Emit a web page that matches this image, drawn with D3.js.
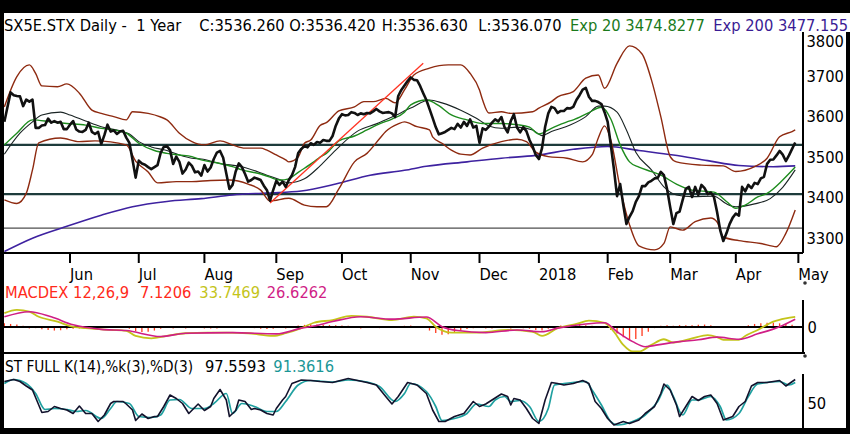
<!DOCTYPE html>
<html>
<head>
<meta charset="utf-8">
<script src="https://cdn.jsdelivr.net/npm/d3@7.9.0/dist/d3.min.js"></script>
<style>
  html, body { margin: 0; padding: 0; background: #000; }
  svg { display: block; }
  text { font-family: "DejaVu Sans", sans-serif; font-size: 14.7px; white-space: pre; }
</style>
</head>
<body>
<svg id="chart" width="850" height="434"></svg>
<script>
// ---- data (one value per trading session, index 0 = 2 May 2017)
const closeVals = [
  3587, 3624, 3660, 3653, 3651, 3650, 3626, 3642, 3637, 3642,
  3572, 3572, 3578, 3579, 3595, 3585, 3589, 3585, 3587, 3569,
  3569, 3580, 3589, 3568, 3563, 3562, 3567, 3585, 3562, 3557,
  3562, 3532, 3554, 3580, 3563, 3566, 3557, 3563, 3565, 3548,
  3535, 3493, 3449, 3491, 3484, 3481, 3475, 3470, 3475, 3480,
  3510, 3525, 3527, 3517, 3483, 3501, 3488, 3459, 3469, 3486,
  3478, 3462, 3464, 3454, 3480, 3464, 3474, 3495, 3511, 3515,
  3498, 3459, 3421, 3431, 3464, 3484, 3475, 3458, 3439, 3443,
  3449, 3446, 3443, 3429, 3418, 3392, 3418, 3441, 3431, 3439,
  3426, 3443, 3455, 3475, 3510, 3520, 3527, 3524, 3534, 3530,
  3537, 3535, 3542, 3540, 3540, 3552, 3577, 3595, 3606, 3603,
  3604, 3611, 3609, 3604, 3608, 3606, 3609, 3608, 3613, 3619,
  3613, 3609, 3610, 3611, 3608, 3599, 3651, 3666, 3677, 3688,
  3697, 3691, 3690, 3676, 3658, 3641, 3619, 3597, 3574, 3556,
  3559, 3562, 3567, 3572, 3569, 3582, 3573, 3587, 3577, 3593,
  3573, 3577, 3535, 3571, 3567, 3575, 3585, 3593, 3588, 3599,
  3574, 3561, 3589, 3606, 3573, 3561, 3574, 3564, 3542, 3526,
  3505, 3495, 3522, 3575, 3608, 3624, 3621, 3609, 3614, 3614,
  3621, 3620, 3624, 3641, 3653, 3667, 3671, 3649, 3639, 3639,
  3636, 3631, 3611, 3587, 3530, 3470, 3403, 3433, 3381, 3334,
  3352, 3366, 3389, 3403, 3428, 3428, 3437, 3441, 3447, 3448,
  3463, 3455, 3421, 3376, 3334, 3361, 3365, 3394, 3421, 3426,
  3401, 3426, 3406, 3431, 3423, 3408, 3412, 3401, 3364, 3319,
  3292, 3311, 3334, 3350, 3360, 3355, 3426, 3415, 3431, 3423,
  3436, 3433, 3447, 3451, 3483, 3493, 3494, 3504, 3515, 3506,
  3490, 3504, 3520, 3536
];

// [session, value]
const upperBand = [
  [0,3624],[4,3699],[8,3728],[10,3707],[12,3676],[17,3674],[20,3681],[24,3658],[28,3616],
  [31,3608],[35,3600],[39,3592],[41,3612],[46,3608],[50,3599],[52,3592],[56,3559],[60,3538],
  [64,3530],[69,3540],[73,3530],[77,3522],[82,3522],[84,3517],[87,3505],[90,3493],[91,3488],
  [94,3500],[96,3534],[98,3542],[101,3578],[103,3585],[107,3614],[112,3624],[115,3637],
  [118,3637],[122,3645],[125,3634],[128,3666],[131,3703],[136,3720],[142,3728],[146,3728],
  [149,3707],[152,3666],[153,3641],[155,3609],[159,3612],[162,3608],[169,3612],[171,3621],
  [175,3637],[177,3649],[182,3662],[186,3695],[190,3703],[192,3670],[196,3732],[200,3775],
  [204,3755],[207,3691],[210,3600],[213,3501],[215,3488],[223,3480],[230,3478],[234,3464],
  [240,3476],[244,3497],[248,3550],[252,3563],[253,3567]
];
const lowerBand = [
  [0,3394],[4,3385],[7,3410],[9,3468],[11,3535],[18,3547],[24,3538],[29,3540],[39,3530],
  [42,3490],[46,3463],[49,3436],[55,3439],[60,3439],[66,3442],[72,3443],[78,3433],[82,3418],
  [85,3391],[91,3398],[96,3381],[100,3377],[103,3377],[107,3421],[112,3488],[116,3509],
  [120,3545],[122,3563],[126,3582],[128,3587],[132,3575],[136,3567],[137,3550],[140,3534],
  [143,3517],[146,3507],[149,3505],[153,3522],[159,3538],[164,3544],[167,3538],[170,3512],
  [174,3501],[180,3497],[185,3488],[188,3505],[190,3547],[192,3577],[194,3542],[197,3423],
  [200,3332],[203,3280],[208,3270],[211,3286],[213,3327],[217,3319],[221,3340],[226,3349],
  [228,3339],[230,3302],[235,3293],[242,3286],[247,3278],[250,3311],[253,3369]
];
const ema20 = [
  [0,3530],[4,3559],[9,3592],[15,3587],[20,3583],[26,3579],[31,3571],[35,3567],[39,3559],
  [43,3534],[48,3516],[52,3509],[56,3505],[60,3501],[63,3493],[69,3484],[73,3476],[76,3468],
  [82,3458],[85,3450],[88,3443],[91,3446],[94,3462],[99,3488],[101,3500],[103,3509],
  [107,3540],[112,3552],[116,3567],[120,3582],[124,3594],[128,3611],[130,3629],[135,3641],
  [139,3627],[143,3604],[148,3592],[153,3583],[159,3583],[164,3580],[168,3574],[171,3557],
  [175,3571],[180,3587],[182,3592],[187,3610],[191,3623],[194,3594],[197,3530],[200,3488],
  [203,3475],[207,3464],[210,3455],[215,3433],[220,3418],[227,3413],[231,3390],[234,3373],
  [237,3381],[241,3401],[244,3410],[249,3443],[253,3475]
];
const ma20 = [
  [0,3507],[5,3559],[9,3587],[12,3604],[18,3611],[21,3604],[26,3589],[31,3575],[37,3565],
  [40,3557],[43,3538],[47,3525],[52,3516],[56,3505],[60,3497],[63,3495],[69,3484],[76,3476],
  [84,3455],[88,3444],[91,3436],[96,3446],[101,3478],[106,3517],[113,3564],[119,3582],
  [124,3599],[130,3621],[136,3641],[140,3634],[146,3616],[151,3596],[155,3577],[159,3571],
  [164,3574],[169,3567],[172,3553],[175,3563],[181,3579],[186,3600],[190,3626],[192,3626],
  [196,3611],[199,3567],[202,3512],[207,3468],[211,3426],[215,3406],[220,3402],[227,3403],
  [231,3384],[234,3377],[240,3384],[245,3397],[249,3425],[253,3468]
];
const ema200 = [
  [0,3266],[9,3299],[19,3326],[31,3356],[41,3377],[52,3390],[63,3397],[73,3406],[84,3411],
  [95,3416],[106,3433],[117,3455],[128,3467],[135,3477],[148,3488],[159,3497],[170,3504],
  [182,3519],[193,3526],[203,3516],[214,3505],[225,3491],[235,3479],[246,3476],[253,3478]
];
const trendLine = [[85, 3386], [134, 3732]];
const levelsThick = [3530, 3408];
const levelsThin = [3324];

const priceTicks = [3300, 3400, 3500, 3600, 3700, 3800];
const monthDays = [21, 43, 64, 87, 108, 130, 152, 171, 193, 213, 234, 254];
const monthLabels = ['Jun', 'Jul', 'Aug', 'Sep', 'Oct', 'Nov', 'Dec', '2018', 'Feb', 'Mar', 'Apr', 'May'];

const macdLine = [
  [0,46],[4,57],[8,51],[11,34],[17,18],[21,3],[26,-4],[34,-10],[39,-13],[42,-30],[47,-38],
  [52,-30],[58,-21],[65,-19],[71,-19],[78,-21],[86,-30],[90,-21],[95,-4],[99,14],[105,23],
  [111,37],[116,34],[124,23],[131,34],[135,29],[138,1],[143,-19],[151,-19],[161,-10],
  [169,-16],[172,-30],[177,-4],[183,10],[187,21],[192,14],[195,-16],[198,-60],[201,-82],
  [203,-82],[207,-60],[211,-41],[214,-52],[220,-38],[225,-27],[228,-34],[230,-43],[235,-43],
  [237,-30],[241,-10],[246,18],[250,29],[253,34]
];
const signalLine = [
  [0,34],[8,51],[15,34],[22,7],[31,-8],[39,-12],[50,-32],[58,-21],[73,-19],[87,-23],[95,-4],
  [99,3],[105,18],[114,34],[124,26],[135,33],[140,1],[145,-12],[154,-19],[164,-10],[172,-16],
  [177,-4],[186,10],[192,14],[196,-16],[201,-49],[205,-66],[209,-60],[216,-49],[222,-43],
  [228,-34],[235,-41],[241,-23],[248,1],[253,26]
];
// histogram, one bar every HIST_STEP sessions
const HIST_STEP = 2;
const histVals = [
  12, 10, 8, 4, 0, -4, -8, -10, -12, -11, -8, -6, -5, -4, -4, -3, -2, -2, -1, -1,
  -6, -14, -17, -16, -12, -6, -2, 0, 1, 0, 1, 1, 0, 0, 0, -1, -1, -1, -2, -3,
  -4, -6, -7, -6, -3, 0, 3, 5, 7, 9, 8, 7, 6, 6, 5, 4, 2, 0, -1, -3,
  -4, -3, -1, 2, 4, 5, 2, -3, -12, -20, -26, -24, -18, -12, -7, -4, -2, 0, 0, 1,
  1, 0, -2, -4, -6, -10, -12, -6, 2, 5, 6, 7, 7, 6, 4, 2, -2, -10, -22, -34,
  -42, -40, -30, -16, -4, 4, 6, 4, 6, 6, 6, 7, 8, 6, 2, -2, -3, -2, 2, 6,
  10, 12, 14, 14, 12, 10, 7
];

const stochK = [
  [0,93],[3,97],[5,93],[7,84],[9,76],[12,31],[14,33],[16,43],[18,39],[20,36],[22,29],[24,44],
  [26,29],[28,29],[30,13],[32,26],[34,49],[35,53],[38,53],[39,48],[41,36],[42,15],[44,28],
  [46,19],[48,23],[49,23],[51,43],[53,66],[55,59],[57,49],[59,29],[62,48],[64,35],[66,43],
  [67,59],[69,77],[71,56],[72,23],[74,35],[75,56],[77,53],[79,37],[80,39],[82,36],[84,29],
  [86,26],[87,39],[89,56],[90,63],[92,89],[95,96],[98,95],[101,93],[105,91],[110,99],[113,95],
  [116,91],[119,86],[122,63],[124,48],[126,63],[129,91],[132,86],[135,69],[137,36],[139,13],
  [141,13],[144,23],[147,29],[150,53],[152,43],[154,48],[156,56],[159,68],[161,63],[162,46],
  [163,59],[165,56],[167,39],[169,19],[171,9],[173,56],[175,91],[177,89],[179,86],[182,89],
  [185,95],[187,89],[189,53],[191,39],[193,19],[195,6],[198,13],[200,9],[203,16],[205,29],
  [208,43],[210,69],[211,88],[213,76],[215,46],[216,23],[218,43],[220,63],[222,55],[224,63],
  [226,66],[228,49],[230,16],[233,23],[235,43],[237,53],[239,84],[241,91],[244,91],[248,95],
  [250,84],[253,97]
];
const stochD = [
  [0,89],[3,97],[7,89],[10,69],[13,37],[16,39],[20,37],[23,33],[26,35],[31,19],[34,39],[36,53],
  [40,49],[43,23],[47,21],[50,26],[53,56],[56,57],[60,39],[64,39],[67,49],[71,69],[73,29],
  [76,49],[80,43],[84,33],[87,33],[90,53],[94,86],[98,95],[105,92],[110,96],[116,92],[120,83],
  [125,53],[128,69],[130,89],[135,73],[138,43],[140,15],[144,19],[148,29],[151,48],[155,43],
  [157,56],[160,63],[162,53],[165,55],[168,43],[171,13],[174,39],[176,86],[179,89],[186,93],
  [188,76],[191,46],[194,13],[196,6],[201,13],[205,26],[209,53],[212,86],[214,63],[217,26],
  [220,56],[222,56],[226,63],[229,43],[231,16],[235,29],[238,63],[241,88],[248,93],[251,86],
  [253,91]
];

// ---- layout
const svg = d3.select('#chart');
const plotLeft = 4, plotRight = 803;
const mainTop = 13, mainBottom = 253;
const macdBottom = 353;
const stBottom = 428;

const x = d3.scaleLinear().domain([0, 254]).range([4.35, 798.35]);
const y = d3.scaleLinear().domain([3300, 3800]).range([237.8, 35.8]);
const yM = d3.scaleLinear().domain([-87, 90]).range([macdBottom, 300]);
const yS = d3.scaleLinear().domain([0, 100]).range([stBottom, 378]);

// white page inside the black frame (header row runs to the right edge)
svg.append('rect').attr('x', 4).attr('y', 13).attr('width', 842).attr('height', 417).attr('fill', '#fff');
svg.append('rect').attr('x', 4).attr('y', 13).attr('width', 846).attr('height', 19).attr('fill', '#fff');

const label = (g, px, py, str, color, opts = {}) => {
  const t = g.append('text')
    .attr('transform', `translate(${px},${py}) scale(1,1.05)`)
    .attr('fill', color)
    .attr('text-anchor', opts.anchor || 'start')
    .text(str);
  if (opts.len) t.attr('textLength', opts.len).attr('lengthAdjust', 'spacingAndGlyphs');
  return t;
};

const defs = svg.append('defs');
defs.append('clipPath').attr('id', 'clipMain')
  .append('rect').attr('x', plotLeft).attr('y', mainTop).attr('width', plotRight - plotLeft).attr('height', mainBottom - mainTop);
defs.append('clipPath').attr('id', 'clipMacd')
  .append('rect').attr('x', plotLeft).attr('y', 298).attr('width', plotRight - plotLeft).attr('height', macdBottom - 298);
defs.append('clipPath').attr('id', 'clipSt')
  .append('rect').attr('x', plotLeft).attr('y', 374).attr('width', plotRight - plotLeft).attr('height', stBottom - 374);

// ---- main price panel
const main = svg.append('g').attr('clip-path', 'url(#clipMain)');
const smooth = d3.line().x(d => x(d[0])).y(d => y(d[1])).curve(d3.curveMonotoneX);

main.selectAll('line.lvl').data(levelsThick).join('line')
  .attr('x1', plotLeft).attr('x2', plotRight)
  .attr('y1', d => y(d)).attr('y2', d => y(d))
  .attr('stroke', '#1d3b3b').attr('stroke-width', 2.2);
main.selectAll('line.lvl2').data(levelsThin).join('line')
  .attr('x1', plotLeft).attr('x2', plotRight)
  .attr('y1', d => y(d)).attr('y2', d => y(d))
  .attr('stroke', '#222').attr('stroke-width', 1);

main.append('path').attr('d', smooth(ema200)).attr('fill', 'none').attr('stroke', '#3e22a0').attr('stroke-width', 1.6);
main.append('path').attr('d', smooth(upperBand)).attr('fill', 'none').attr('stroke', '#8e2a10').attr('stroke-width', 1.4);
main.append('path').attr('d', smooth(lowerBand)).attr('fill', 'none').attr('stroke', '#8e2a10').attr('stroke-width', 1.4);
main.append('path').attr('d', smooth(ma20)).attr('fill', 'none').attr('stroke', '#1a2424').attr('stroke-width', 1.1);
main.append('path').attr('d', smooth(ema20)).attr('fill', 'none').attr('stroke', '#1e8c1e').attr('stroke-width', 1.4);
main.append('path').attr('d', d3.line().x(d => x(d[0])).y(d => y(d[1]))(trendLine))
  .attr('fill', 'none').attr('stroke', '#ff3322').attr('stroke-width', 1.3);

const closeLine = d3.line().x((d, i) => x(i)).y(d => y(d));
main.append('path').attr('d', closeLine(closeVals))
  .attr('fill', 'none').attr('stroke', '#111').attr('stroke-width', 2.6).attr('stroke-linejoin', 'round');

// right price axis
const axisG = svg.append('g');
axisG.append('line').attr('x1', plotRight).attr('x2', plotRight).attr('y1', 32).attr('y2', mainBottom)
  .attr('stroke', '#000').attr('stroke-width', 2);
priceTicks.forEach(v => {
  label(axisG, 806.5, Math.max(y(v), 41.7) + 5.7, String(v), '#000');
});

// bottom line and month ticks
svg.append('line').attr('x1', plotLeft).attr('x2', plotRight).attr('y1', mainBottom).attr('y2', mainBottom)
  .attr('stroke', '#000').attr('stroke-width', 2);
monthDays.forEach((d, i) => {
  svg.append('line').attr('x1', x(d)).attr('x2', x(d)).attr('y1', mainBottom).attr('y2', 263)
    .attr('stroke', '#000').attr('stroke-width', 2);
  label(svg, x(d), 280.2, monthLabels[i], '#000');
});

// header
const head = svg.append('g');
label(head, 4, 30.5, 'SX5E.STX Daily -  1 Year', '#000');
label(head, 199.3, 30.5, 'C:3536.260', '#000');
label(head, 289.3, 30.5, 'O:3536.420', '#000');
label(head, 381.7, 30.5, 'H:3536.630', '#000');
label(head, 478.3, 30.5, 'L:3536.070', '#000');
label(head, 570, 30.5, 'Exp 20 3474.8277', '#1b7a1b');
label(head, 713.3, 30.5, 'Exp 200 3477.155', '#3a1c94');

// ---- MACD panel
const macdG = svg.append('g').attr('clip-path', 'url(#clipMacd)');
macdG.selectAll('line.h').data(histVals).join('line')
  .attr('x1', (d, i) => x(i * HIST_STEP)).attr('x2', (d, i) => x(i * HIST_STEP))
  .attr('y1', yM(0)).attr('y2', d => yM(d) + (d === 0 ? 1.5 : 0))
  .attr('stroke', '#ff3a1e').attr('stroke-width', 1.3);
macdG.append('line').attr('x1', plotLeft).attr('x2', plotRight).attr('y1', yM(0)).attr('y2', yM(0))
  .attr('stroke', '#000').attr('stroke-width', 2);
const mLine = d3.line().x(d => x(d[0])).y(d => yM(d[1])).curve(d3.curveMonotoneX);
macdG.append('path').attr('d', mLine(macdLine)).attr('fill', 'none').attr('stroke', '#c4c41a').attr('stroke-width', 1.8);
macdG.append('path').attr('d', mLine(signalLine)).attr('fill', 'none').attr('stroke', '#d01e86').attr('stroke-width', 1.6);

svg.append('line').attr('x1', plotLeft).attr('x2', plotRight + 2).attr('y1', macdBottom).attr('y2', macdBottom)
  .attr('stroke', '#000').attr('stroke-width', 2);
svg.append('line').attr('x1', plotRight).attr('x2', plotRight).attr('y1', 300).attr('y2', macdBottom)
  .attr('stroke', '#000').attr('stroke-width', 2);
label(svg, 807.5, yM(0) + 6, '0', '#000');
svg.append('circle').attr('cx', 805).attr('cy', 283).attr('r', 1.8).attr('fill', '#333');
svg.append('circle').attr('cx', 805).attr('cy', 356).attr('r', 1.8).attr('fill', '#333');

label(svg, 5, 297.6, 'MACDEX 12,26,9', '#ff2a1a');
label(svg, 140, 297.6, '7.1206', '#ff2a1a');
label(svg, 199.3, 297.6, '33.7469', '#c4c41a');
label(svg, 266.7, 297.6, '26.6262', '#d01e86');

// ---- stochastic panel
const stG = svg.append('g').attr('clip-path', 'url(#clipSt)');
stG.append('path')
  .attr('d', d3.line().x(d => x(d[0])).y(d => yS(d[1])).curve(d3.curveMonotoneX)(stochD))
  .attr('fill', 'none').attr('stroke', '#1fa0a0').attr('stroke-width', 1.7);
stG.append('path')
  .attr('d', d3.line().x(d => x(d[0])).y(d => yS(d[1]))(stochK))
  .attr('fill', 'none').attr('stroke', '#12122c').attr('stroke-width', 1.6).attr('stroke-linejoin', 'round');

svg.append('line').attr('x1', plotRight).attr('x2', plotRight).attr('y1', 374).attr('y2', stBottom)
  .attr('stroke', '#000').attr('stroke-width', 2);
svg.append('line').attr('x1', plotLeft).attr('x2', 846).attr('y1', stBottom + 1).attr('y2', stBottom + 1)
  .attr('stroke', '#000').attr('stroke-width', 2);
label(svg, 807.5, yS(50) + 6.3, '50', '#000');

label(svg, 5, 371.7, 'ST FULL K(14),%k(3),%D(3)', '#000', { len: 188 });
label(svg, 205, 371.7, '97.5593', '#000');
label(svg, 273.3, 371.7, '91.3616', '#1a9696');
</script>
</body>
</html>
